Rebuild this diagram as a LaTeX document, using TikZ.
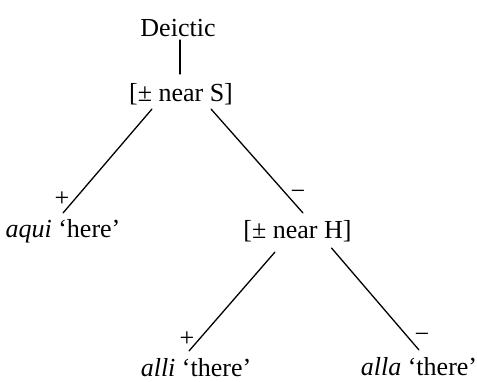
\documentclass[tikz,border=0pt]{standalone}
\usepackage{fontspec}
\setmainfont{Liberation Serif}

\begin{document}
\begin{tikzpicture}[x=1pt,y=-1pt,line cap=round,line width=1.3pt,
  font=\fontsize{26}{30}\selectfont,
  feat/.style={inner sep=0pt,anchor=base},
  sign/.style={inner sep=0pt,font=\fontsize{26}{30}\selectfont}]
\useasboundingbox (0,0) rectangle (477,382);
% features and words
\node[feat] (deictic) at (178,37) {Deictic};
\node[feat] (nearS) at (181,102) {[± near S]};
\node[feat] (aqui) at (63,238) {\textit{aqui} ‘here’};
\node[feat] (nearH) at (297.5,239) {[± near H]};
\node[feat] (alli) at (196,377) {\textit{alli} ‘there’};
\node[feat] (alla) at (419,375) {\textit{alla} ‘there’};
% branches
\draw ([xshift=2pt,yshift=-3pt]deictic.base) -- ([xshift=-1pt,yshift=28pt]nearS.base);
\draw ([xshift=-29pt,yshift=-7pt]nearS.base) -- ([yshift=25pt]aqui.base);
\draw ([xshift=30pt,yshift=-7pt]nearS.base) -- ([xshift=5.5pt,yshift=26pt]nearH.base);
\draw ([xshift=-22.5pt,yshift=-13pt]nearH.base) -- ([xshift=-7pt,yshift=26pt]alli.base);
\draw ([xshift=34pt,yshift=-9pt]nearH.base) -- ([xshift=0pt,yshift=25pt]alla.base);
% values
\node[sign] (plusS) at (62,199) {+};
\node[sign] (minusS) at (298,195) {−};
\node[sign] (plusH) at (187,339) {+};
\node[sign] (minusH) at (422,338) {−};
\end{tikzpicture}
\end{document}
